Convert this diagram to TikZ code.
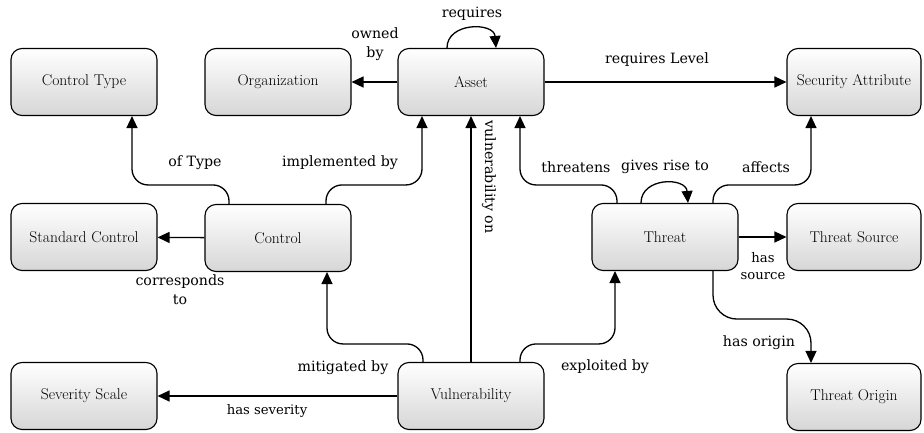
\documentclass[tikz,border=0pt]{standalone}
\usepackage{fontspec}
\newfontfamily\edgefont{DejaVu Serif}
\usetikzlibrary{arrows.meta}
\begin{document}
\begin{tikzpicture}[x=1pt,y=-1pt,
  box/.style={draw=black, line width=1.1pt, rounded corners=11pt, minimum width=146pt, minimum height=67pt, top color=white, bottom color=black!16, font=\rmfamily\fontsize{15.6}{18}\selectfont, inner sep=0pt},
  rbox/.style={box, minimum width=134pt},
  lbl/.style={font=\edgefont\fontsize{14.2}{19}\selectfont, align=center, inner sep=0pt},
  slbl/.style={lbl, font=\edgefont\fontsize{13.2}{17}\selectfont},
  conn/.style={line width=1.3pt, -{Triangle[length=12pt,width=11pt]}, rounded corners=16pt}]
\useasboundingbox (0,0) rectangle (924,433);
% nodes
\node[box]  (ctype)   at (84,82)   {Control Type};
\node[box]  (org)     at (278,82)  {Organization};
\node[box]  (asset)   at (471,82)  {Asset};
\node[rbox] (secattr) at (854,82)  {Security Attribute};
\node[box]  (stdctrl) at (84,237)  {Standard Control};
\node[box]  (control) at (278,238) {Control};
\node[box]  (threat)  at (665,237) {Threat};
\node[rbox] (tsource) at (854,237) {Threat Source};
\node[box]  (sev)     at (84,396)  {Severity Scale};
\node[box]  (vuln)    at (471,396) {Vulnerability};
\node[rbox] (torigin) at (854,397) {Threat Origin};
% connectors
\draw[conn] (asset) -- (org);
\draw[conn] (asset) -- (secattr);
\draw[conn] ([xshift=-24pt]asset.north) .. controls +(0,-26) and +(-2,-26) .. ([xshift=25pt]asset.north);
\draw[conn] ([xshift=-49pt]control.north) -- ++(0,-19) -| ([xshift=48pt]ctype.south);
\draw[conn] ([xshift=48pt]control.north) -- ++(0,-19) -| ([xshift=-49pt]asset.south);
\draw[conn] (control) -- (stdctrl);
\draw[conn] ([xshift=-48pt]vuln.north) -- ++(0,-18) -| ([xshift=49pt]control.south);
\draw[conn] (vuln) -- (asset);
\draw[conn] ([xshift=49pt]vuln.north) -- ++(0,-18) -| ([xshift=-50pt]threat.south);
\draw[conn] (vuln) -- (sev);
\draw[conn] ([xshift=-48pt]threat.north) -- ++(0,-18) -| ([xshift=49pt]asset.south);
\draw[conn] ([xshift=-24pt]threat.north) .. controls +(0,-26) and +(-2,-26) .. ([xshift=23pt]threat.north);
\draw[conn] ([xshift=48pt]threat.north) -- ++(0,-18) -| ([xshift=-43pt]secattr.south);
\draw[conn] (threat) -- (tsource);
\draw[conn, rounded corners=24pt] ([xshift=48pt]threat.south) -- ++(0,48) -| ([xshift=-43pt]torigin.north);
% labels
\node[lbl] (l1) at (375,44) {owned\\by};
\node[lbl] (l2) at (472,14) {requires};
\node[lbl] (l3) at (657,60) {requires Level};
\node[lbl] (l4) at (195,163) {of Type};
\node[lbl] (l5) at (340,163) {implemented by};
\node[lbl] (l6) at (180,290) {corresponds\\to};
\node[lbl] (l7) at (576,167) {threatens};
\node[lbl] (l8) at (665,167) {gives rise to};
\node[lbl] (l9) at (766,167) {affects};
\node[lbl, rotate=-90] (l10) at (489,177) {vulnerability on};
\node[slbl] (l11) at (763,266) {has\\source};
\node[lbl] (l12) at (759,343) {has origin};
\node[lbl] (l13) at (343,368) {mitigated by};
\node[lbl] (l14) at (605,367) {exploited by};
\node[slbl] (l15) at (267,411) {has severity};
\end{tikzpicture}
\end{document}
